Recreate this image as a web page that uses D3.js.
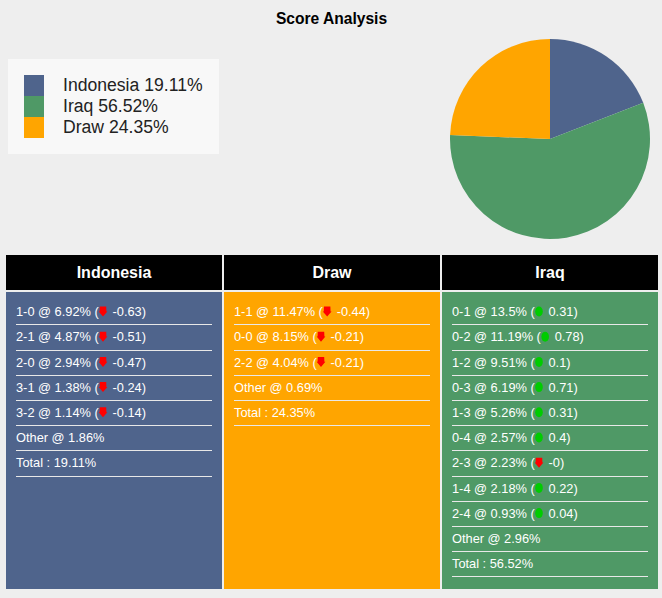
<!DOCTYPE html>
<html><head><meta charset="utf-8">
<script src="https://cdn.jsdelivr.net/npm/d3@7/dist/d3.min.js"></script>
<style>html,body{margin:0;padding:0;background:#eee;}svg{display:block;}</style>
</head><body><svg id="c" width="662" height="598"></svg>
<script>
const outcomes = ["Indonesia", "Iraq", "Draw"];
const shares = [19.11, 56.52, 24.35];
const colors = ["#4f648c", "#4f9966", "#ffa500"];
const columns = ["Indonesia", "Draw", "Iraq"];
const indonesiaScores = ["1-0", "2-1", "2-0", "3-1", "3-2"];
const indonesiaPct = [6.92, 4.87, 2.94, 1.38, 1.14];
const indonesiaDelta = ["-0.63", "-0.51", "-0.47", "-0.24", "-0.14"];
const drawScores = ["1-1", "0-0", "2-2"];
const drawPct = [11.47, 8.15, 4.04];
const drawDelta = ["-0.44", "-0.21", "-0.21"];
const iraqScores = ["0-1", "0-2", "1-2", "0-3", "1-3", "0-4", "2-3", "1-4", "2-4"];
const iraqPct = [13.5, 11.19, 9.51, 6.19, 5.26, 2.57, 2.23, 2.18, 0.93];
const iraqDelta = ["0.31", "0.78", "0.1", "0.71", "0.31", "0.4", "-0", "0.22", "0.04"];
const otherPct = [1.86, 0.69, 2.96];
const totalPct = [19.11, 24.35, 56.52];
const font = "Arial, 'Liberation Sans', sans-serif";

const svg = d3.select("#c").style("font-family", font);
svg.append("text").attr("x", 331.5).attr("y", 24).attr("text-anchor", "middle")
  .attr("font-size", 15.6).attr("font-weight", "bold").attr("fill", "#000").text("Score Analysis");

// legend
svg.append("rect").attr("x", 8).attr("y", 59).attr("width", 211).attr("height", 95).attr("fill", "#f8f8f8");
const legendY = d3.scaleBand().domain(outcomes).range([75, 138]);
svg.selectAll("rect.sw").data(outcomes).join("rect").attr("class", "sw")
  .attr("x", 24).attr("y", d => legendY(d)).attr("width", 20).attr("height", legendY.bandwidth())
  .attr("fill", (d, i) => colors[i]);
svg.selectAll("text.lg").data(outcomes).join("text").attr("class", "lg")
  .attr("x", 63).attr("y", d => legendY(d) + legendY.bandwidth() / 2 + 5.4)
  .attr("font-size", 17.6).attr("fill", "#222")
  .text((d, i) => `${d} ${shares[i]}%`);

// pie
const pie = d3.pie().sort(null).value(d => d);
const arc = d3.arc().innerRadius(0).outerRadius(100);
svg.append("g").attr("transform", "translate(550,139)").selectAll("path").data(pie(shares)).join("path")
  .attr("d", arc).attr("fill", (d, i) => colors[i]);

// columns
const colX = d3.scaleOrdinal().domain(columns).range([6, 224, 442]);
const colW = 216;
const colData = {
  Indonesia: [indonesiaScores, indonesiaPct, indonesiaDelta, "#4f648c"],
  Draw: [drawScores, drawPct, drawDelta, "#ffa500"],
  Iraq: [iraqScores, iraqPct, iraqDelta, "#4f9966"]
};
const rowY = d3.scaleLinear().domain([0, 1]).range([324.4, 349.6]);
columns.forEach((name, ci) => {
  const x0 = colX(name), [sc, pc, de, col] = colData[name];
  svg.append("rect").attr("x", x0).attr("y", 255).attr("width", colW).attr("height", 35).attr("fill", "#000");
  svg.append("text").attr("x", x0 + colW / 2).attr("y", 278).attr("text-anchor", "middle")
    .attr("font-size", 16).attr("font-weight", "bold").attr("fill", "#fff").text(name);
  svg.append("rect").attr("x", x0).attr("y", 292).attr("width", colW).attr("height", 297).attr("fill", col);
  const rows = sc.map((s, i) => ({s, p: pc[i], d: de[i]}));
  rows.push({label: `Other @ ${otherPct[ci]}%`});
  rows.push({label: `Total : ${totalPct[ci]}%`});
  rows.forEach((r, i) => {
    const base = rowY(i) - 8.2;
    const ly = Math.round(rowY(i)) + 0.5;
    svg.append("line").attr("x1", x0 + 10).attr("x2", x0 + 206)
      .attr("y1", ly).attr("y2", ly).attr("stroke", "#e8e8e8").attr("stroke-width", 1.2);
    const t = svg.append("text").attr("x", x0 + 10).attr("y", base)
      .attr("font-size", 12.8).attr("fill", "#fff");
    if (r.label) { t.text(r.label); return; }
    t.text(`${r.s} @ ${r.p}% (`);
    const w = t.node().getComputedTextLength();
    const ax = x0 + 10 + w + 4.3, up = !r.d.startsWith("-");
    if (up) {
      svg.append("ellipse").attr("cx", ax).attr("cy", base - 4.7).attr("rx", 3.8).attr("ry", 5).attr("fill", "#00cc00");
    } else {
      const sym = d3.line()([[ax - 3.2, base - 9.7], [ax + 3.2, base - 9.7], [ax + 3.4, base - 4.8], [ax + 4.4, base - 4.8], [ax, base + 0.3], [ax - 4.4, base - 4.8], [ax - 3.4, base - 4.8]]);
      svg.append("path").attr("d", sym + "Z").attr("fill", "#ff0000");
    }
    svg.append("text").attr("x", ax + 9.5).attr("y", base).attr("font-size", 12.8).attr("fill", "#fff").text(`${r.d})`);
  });
});
</script></body></html>
